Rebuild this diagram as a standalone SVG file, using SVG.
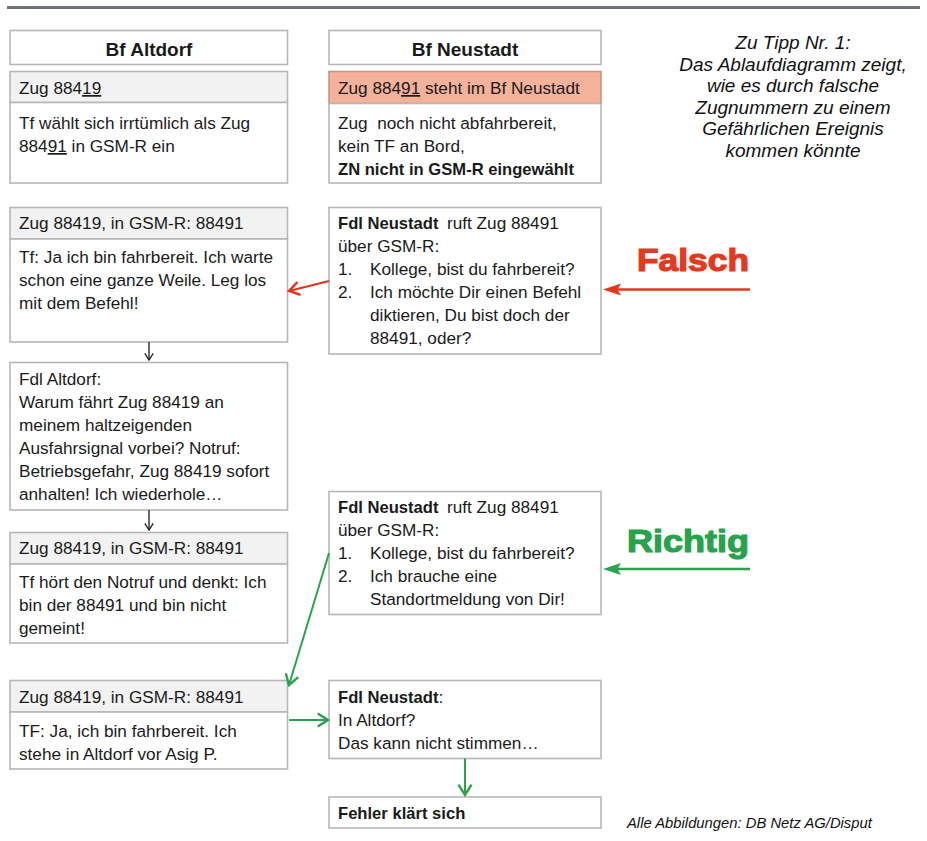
<svg xmlns="http://www.w3.org/2000/svg" width="927" height="841" viewBox="0 0 927 841">
<style>
.box{fill:#ffffff;stroke:#b8b6b6;stroke-width:1.6}
.hdr{fill:#f2f2f2;stroke:#b8b6b6;stroke-width:1.6}
.pink{fill:#f5b29b;stroke:#c9957f;stroke-width:1.6}
.t{font-family:"Liberation Sans",Arial,sans-serif;font-size:17.2px;fill:#1a1a1a}
.b{font-weight:bold;font-size:16.6px}
.h{font-family:"Liberation Sans",Arial,sans-serif;font-weight:bold;font-size:19px;fill:#1a1a1a}
.u{text-decoration:underline}
.note{font-family:"Liberation Sans",Arial,sans-serif;font-style:italic;font-size:19px;fill:#111}
.foot{font-family:"Liberation Sans",Arial,sans-serif;font-style:italic;font-size:14.8px;fill:#111}
.big{font-family:"Liberation Sans",Arial,sans-serif;font-weight:bold;font-size:32px}
</style>
<defs>
<marker id="chevK" viewBox="0 0 10 12" refX="9.5" refY="6" markerWidth="7" markerHeight="8.4" markerUnits="userSpaceOnUse" orient="auto" overflow="visible">
<path d="M0,0 L9.5,6 L0,12" fill="none" stroke="#1a1a1a" stroke-width="1.8"/>
</marker>
<marker id="chevR" viewBox="0 0 10 12" refX="9.5" refY="6" markerWidth="11" markerHeight="13" markerUnits="userSpaceOnUse" orient="auto" overflow="visible">
<path d="M0,0 L9.5,6 L0,12" fill="none" stroke="#e5321c" stroke-width="2.2"/>
</marker>
<marker id="chevG" viewBox="0 0 10 12" refX="9.5" refY="6" markerWidth="11" markerHeight="13" markerUnits="userSpaceOnUse" orient="auto" overflow="visible">
<path d="M0,0 L9.5,6 L0,12" fill="none" stroke="#2aa34a" stroke-width="2.2"/>
</marker>
</defs>
<rect width="927" height="841" fill="#ffffff"/>
<line x1="7" y1="7.5" x2="920" y2="7.5" stroke="#6d7277" stroke-width="3"/>

<g id="hdr-altdorf"><rect class="box" x="10" y="30.5" width="277.5" height="34"/><text class="h" x="149" y="55.5" text-anchor="middle">Bf Altdorf</text></g>
<g id="hdr-neustadt"><rect class="box" x="329" y="30.5" width="272" height="34"/><text class="h" x="465" y="55.5" text-anchor="middle">Bf Neustadt</text></g>

<g id="a1"><rect class="hdr" x="10" y="71.5" width="277.5" height="31"/><text class="t" x="19" y="94">Zug 884<tspan class="u">19</tspan></text></g>
<g id="a1t"><rect class="box" x="10" y="102.5" width="277.5" height="80.5"/><text class="t" x="19" y="129">Tf wählt sich irrtümlich als Zug</text><text class="t" x="19" y="152">884<tspan class="u">91</tspan> in GSM-R ein</text></g>

<g id="n1"><rect class="pink" x="329" y="71.5" width="272" height="32"/><text class="t" x="338" y="94">Zug 884<tspan class="u">91</tspan> steht im Bf Neustadt</text></g>
<g id="n1t"><rect class="box" x="329" y="103.5" width="272" height="79.5"/><text class="t" x="338" y="129">Zug&#160; noch nicht abfahrbereit,</text><text class="t" x="338" y="152">kein TF an Bord,</text><text class="t b" x="338" y="175">ZN nicht in GSM-R eingewählt</text></g>

<g id="a2"><rect class="hdr" x="10" y="207.5" width="277.5" height="31.5"/><text class="t" x="19" y="229">Zug 88419, in GSM-R: 88491</text></g>
<g id="a2t"><rect class="box" x="10" y="239" width="277.5" height="103"/><text class="t" x="19" y="263">Tf: Ja ich bin fahrbereit. Ich warte</text><text class="t" x="19" y="286">schon eine ganze Weile. Leg los</text><text class="t" x="19" y="309">mit dem Befehl!</text></g>

<g id="n2"><rect class="box" x="329" y="207.5" width="272" height="146.5"/>
<text class="t" x="338" y="229"><tspan class="b">Fdl Neustadt</tspan><tspan x="447">ruft Zug 88491</tspan></text>
<text class="t" x="338" y="252">über GSM-R:</text>
<text class="t" x="338" y="275">1.<tspan x="370">Kollege, bist du fahrbereit?</tspan></text>
<text class="t" x="338" y="298">2.<tspan x="370">Ich möchte Dir einen Befehl</tspan></text>
<text class="t" x="370" y="321">diktieren, Du bist doch der</text>
<text class="t" x="370" y="344">88491, oder?</text></g>

<g id="a3"><rect class="box" x="10" y="362.5" width="277.5" height="147.5"/>
<text class="t" x="19" y="385">Fdl Altdorf:</text>
<text class="t" x="19" y="408">Warum fährt Zug 88419 an</text>
<text class="t" x="19" y="431">meinem haltzeigenden</text>
<text class="t" x="19" y="454">Ausfahrsignal vorbei? Notruf:</text>
<text class="t" x="19" y="477">Betriebsgefahr, Zug 88419 sofort</text>
<text class="t" x="19" y="500">anhalten! Ich wiederhole…</text></g>

<g id="a4"><rect class="hdr" x="10" y="532.5" width="277.5" height="31.5"/><text class="t" x="19" y="554">Zug 88419, in GSM-R: 88491</text></g>
<g id="a4t"><rect class="box" x="10" y="564" width="277.5" height="79"/><text class="t" x="19" y="588">Tf hört den Notruf und denkt: Ich</text><text class="t" x="19" y="611">bin der 88491 und bin nicht</text><text class="t" x="19" y="634">gemeint!</text></g>

<g id="n3"><rect class="box" x="329" y="491.5" width="272" height="123"/>
<text class="t" x="338" y="513"><tspan class="b">Fdl Neustadt</tspan><tspan x="447">ruft Zug 88491</tspan></text>
<text class="t" x="338" y="536">über GSM-R:</text>
<text class="t" x="338" y="559">1.<tspan x="370">Kollege, bist du fahrbereit?</tspan></text>
<text class="t" x="338" y="582">2.<tspan x="370">Ich brauche eine</tspan></text>
<text class="t" x="370" y="605">Standortmeldung von Dir!</text></g>

<g id="a5"><rect class="hdr" x="10" y="680.5" width="277.5" height="31.5"/><text class="t" x="19" y="703">Zug 88419, in GSM-R: 88491</text></g>
<g id="a5t"><rect class="box" x="10" y="712" width="277.5" height="57"/><text class="t" x="19" y="737">TF: Ja, ich bin fahrbereit. Ich</text><text class="t" x="19" y="760">stehe in Altdorf vor Asig P.</text></g>

<g id="n4"><rect class="box" x="329" y="680.5" width="272" height="78"/>
<text class="t" x="338" y="703"><tspan class="b">Fdl Neustadt</tspan>:</text>
<text class="t" x="338" y="726">In Altdorf?</text>
<text class="t" x="338" y="749">Das kann nicht stimmen…</text></g>

<g id="n5"><rect class="box" x="329" y="797" width="272" height="31"/><text class="t b" x="338" y="819">Fehler klärt sich</text></g>

<g id="note"><text class="note" text-anchor="middle"><tspan x="793" y="49">Zu Tipp Nr. 1:</tspan><tspan x="793" y="70.5">Das Ablaufdiagramm zeigt,</tspan><tspan x="793" y="92">wie es durch falsche</tspan><tspan x="793" y="113.5">Zugnummern zu einem</tspan><tspan x="793" y="135">Gefährlichen Ereignis</tspan><tspan x="793" y="156.5">kommen könnte</tspan></text></g>

<g id="label-falsch"><text class="big" x="637" y="271" fill="#e5381f" stroke="#e5381f" stroke-width="1.2" textLength="112" lengthAdjust="spacingAndGlyphs">Falsch</text></g>
<g id="label-richtig"><text class="big" x="627" y="552" fill="#27a34b" stroke="#27a34b" stroke-width="1.2" textLength="122" lengthAdjust="spacingAndGlyphs">Richtig</text></g>

<g id="foot"><text class="foot" x="627" y="828">Alle Abbildungen: DB Netz AG/Disput</text></g>

<g id="connectors">
<line x1="149" y1="342" x2="149" y2="360" stroke="#1a1a1a" stroke-width="1.3" marker-end="url(#chevK)"/>
<line x1="149" y1="510" x2="149" y2="530" stroke="#1a1a1a" stroke-width="1.3" marker-end="url(#chevK)"/>
<line x1="329" y1="281" x2="289" y2="291" stroke="#e5321c" stroke-width="2" marker-end="url(#chevR)"/>
<line x1="750" y1="289.5" x2="614" y2="289.5" stroke="#e5381f" stroke-width="2.6"/>
<path d="M603,289.5 L621,283.5 L617.5,289.5 L621,295.5 Z" fill="#e5381f"/>
<line x1="750" y1="569" x2="614" y2="569" stroke="#2aa34a" stroke-width="2.6"/>
<path d="M603,569 L621,563 L617.5,569 L621,575 Z" fill="#2aa34a"/>
<line x1="329" y1="553" x2="289" y2="685" stroke="#2aa34a" stroke-width="2" marker-end="url(#chevG)"/>
<line x1="289" y1="720" x2="328" y2="720" stroke="#2aa34a" stroke-width="2" marker-end="url(#chevG)"/>
<line x1="465" y1="758.5" x2="465" y2="795" stroke="#2aa34a" stroke-width="2" marker-end="url(#chevG)"/>
</g>
</svg>
